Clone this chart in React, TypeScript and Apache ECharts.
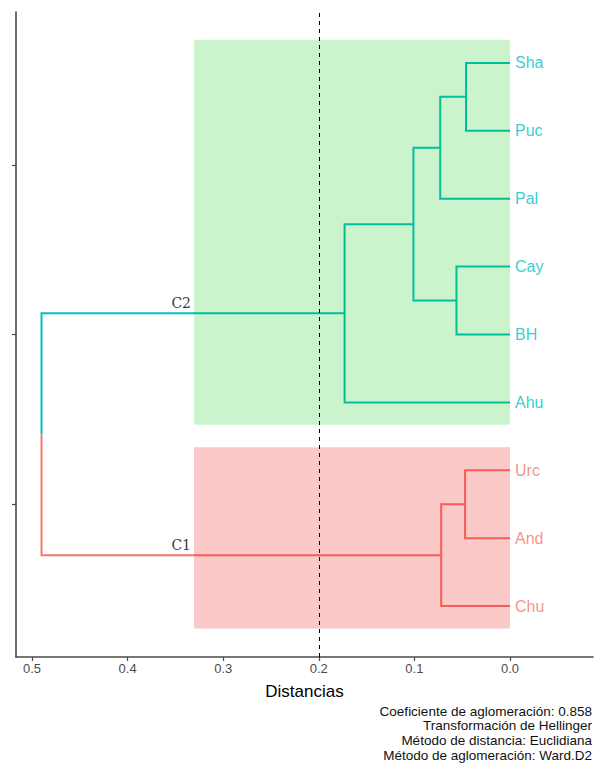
import React, { useEffect, useRef } from "react";
import * as echarts from "echarts";

// Leaves, top to bottom
const leafLabels = ["Sha", "Puc", "Pal", "Cay", "BH", "Ahu", "Urc", "And", "Chu"];
const leafCluster = ["C2", "C2", "C2", "C2", "C2", "C2", "C1", "C1", "C1"];
// Merges (hclust style)
const mergeA = ["Sha", "m1", "Cay", "m2", "m4", "Urc", "m6", "m5"];
const mergeB = ["Puc", "Pal", "BH", "m3", "Ahu", "And", "Chu", "m7"];
const mergeHeights = [0.046, 0.073, 0.056, 0.101, 0.173, 0.047, 0.072, 0.49];
const xTicks = [0, 0.1, 0.2, 0.3, 0.4, 0.5];
const yTicks = [2.5, 5, 7.5];
const cutHeight = 0.2;
const rectLeft = 0.3305;
const footerLines = [
  "Coeficiente de aglomeración: 0.858",
  "Transformación de Hellinger",
  "Método de distancia: Euclidiana",
  "Método de aglomeración: Ward.D2",
];

const clusterColor: Record<string, string> = { C2: "#00BFC4", C1: "#F8766D" };
const clusterFill: Record<string, string> = {
  C2: "rgba(0,200,0,0.2)",
  C1: "rgba(242,0,0,0.21)",
};

export default function App() {
  const ref = useRef<HTMLDivElement>(null);
  useEffect(() => {
    if (!ref.current) return;
    const chart = echarts.init(ref.current, null, { renderer: "svg" });

    const pos: Record<string, { x: number; y: number; c: string }> = {};
    leafLabels.forEach((l, i) => {
      pos[l] = { x: 0, y: leafLabels.length - i, c: leafCluster[i] };
    });
    const lineData: any[] = [];
    mergeA.forEach((A, i) => {
      const a = pos[A];
      const b = pos[mergeB[i]];
      const h = mergeHeights[i];
      const y = (a.y + b.y) / 2;
      if (a.c === b.c) {
        lineData.push({
          coords: [
            [a.x, a.y],
            [h, a.y],
            [h, b.y],
            [b.x, b.y],
          ],
          lineStyle: { color: clusterColor[a.c] },
        });
        pos["m" + (i + 1)] = { x: h, y, c: a.c };
      } else {
        lineData.push({
          coords: [
            [a.x, a.y],
            [h, a.y],
            [h, y],
          ],
          lineStyle: { color: clusterColor[a.c] },
        });
        lineData.push({
          coords: [
            [h, y],
            [h, b.y],
            [b.x, b.y],
          ],
          lineStyle: { color: clusterColor[b.c] },
        });
        pos["m" + (i + 1)] = { x: h, y, c: "root" };
      }
    });

    const clusters = ["C2", "C1"];
    const rectData = clusters.map((c) => {
      const ys = leafLabels
        .map((l, i) => (leafCluster[i] === c ? pos[l].y : NaN))
        .filter((v) => !isNaN(v));
      return {
        value: [rectLeft, Math.max(...ys) + 0.34, 0, Math.min(...ys) - 0.33],
        itemStyle: { color: clusterFill[c] },
      };
    });

    const clusterTop: Record<string, { x: number; y: number }> = {};
    Object.keys(pos).forEach((k) => {
      const p = pos[k];
      if (p.c === "C1" || p.c === "C2") {
        if (!clusterTop[p.c] || p.x > clusterTop[p.c].x) clusterTop[p.c] = p;
      }
    });

    const sans = "'Liberation Sans', Arial, sans-serif";

    chart.setOption({
      animation: false,
      grid: { left: 16, right: 4, top: 12, bottom: 108 },
      xAxis: {
        type: "value",
        inverse: true,
        min: -0.0868,
        max: 0.5167,
        splitLine: { show: false },
        axisLine: {
          show: true,
          onZero: false,
          lineStyle: { color: "#4a4a4a", width: 1.6 },
        },
        axisTick: {
          show: true,
          length: 4,
          customValues: xTicks,
          lineStyle: { color: "#4a4a4a", width: 1.2 },
        },
        axisLabel: {
          customValues: xTicks,
          formatter: (v: number) => v.toFixed(1),
          color: "#4d4d4d",
          fontSize: 13,
          fontFamily: sans,
          margin: 5,
        },
        name: "Distancias",
        nameLocation: "middle",
        nameGap: 26,
        nameTextStyle: { color: "#000", fontSize: 17, fontFamily: sans },
      },
      yAxis: {
        type: "value",
        position: "left",
        min: 0.25,
        max: 9.75,
        splitLine: { show: false },
        axisLine: {
          show: true,
          onZero: false,
          lineStyle: { color: "#4a4a4a", width: 1.6 },
        },
        axisTick: {
          show: true,
          length: 4,
          customValues: yTicks,
          lineStyle: { color: "#4a4a4a", width: 1.2 },
        },
        axisLabel: { show: false },
      },
      series: [
        {
          type: "lines",
          coordinateSystem: "cartesian2d",
          polyline: true,
          z: 2,
          lineStyle: { width: 2, opacity: 1 },
          data: lineData,
          silent: true,
          markLine: {
            silent: true,
            symbol: "none",
            label: { show: false },
            lineStyle: { color: "#000", type: [4, 4], width: 1 },
            data: [{ xAxis: cutHeight }],
          },
        },
        {
          type: "custom",
          coordinateSystem: "cartesian2d",
          z: 3,
          silent: true,
          data: rectData,
          renderItem: (params: any, api: any) => {
            const p1 = api.coord([api.value(0), api.value(1)]);
            const p2 = api.coord([api.value(2), api.value(3)]);
            return {
              type: "rect",
              shape: {
                x: Math.min(p1[0], p2[0]),
                y: Math.min(p1[1], p2[1]),
                width: Math.abs(p2[0] - p1[0]),
                height: Math.abs(p2[1] - p1[1]),
              },
              style: { fill: api.visual("color") },
            };
          },
        },
        {
          type: "scatter",
          z: 4,
          symbolSize: 0,
          silent: true,
          data: leafLabels.map((l, i) => ({
            value: [0, pos[l].y],
            name: l,
            label: { color: clusterColor[leafCluster[i]] },
          })),
          label: {
            show: true,
            position: "right",
            distance: 5,
            formatter: (p: any) => p.name,
            fontSize: 16,
            fontFamily: sans,
          },
        },
        {
          type: "scatter",
          z: 4,
          symbolSize: 0,
          silent: true,
          data: clusters.map((c) => ({
            value: [rectLeft, clusterTop[c].y],
            name: c,
          })),
          label: {
            show: true,
            position: "left",
            distance: 3,
            offset: [0, -10],
            formatter: (p: any) => p.name,
            color: "#000",
            fontSize: 14,
            fontFamily: "'DejaVu Serif', serif",
          },
        },
      ],
      graphic: footerLines.map((t, i) => ({
        type: "text",
        right: 5,
        top: 704 + i * 14.8,
        style: {
          text: t,
          fill: "#111",
          font: "13.5px 'Liberation Sans', Arial, sans-serif",
          textAlign: "right",
        },
      })),
    });
    return () => chart.dispose();
  }, []);
  return (
    <div
      ref={ref}
      style={{ position: "absolute", left: 0, top: 0, width: 597, height: 765 }}
    />
  );
}
